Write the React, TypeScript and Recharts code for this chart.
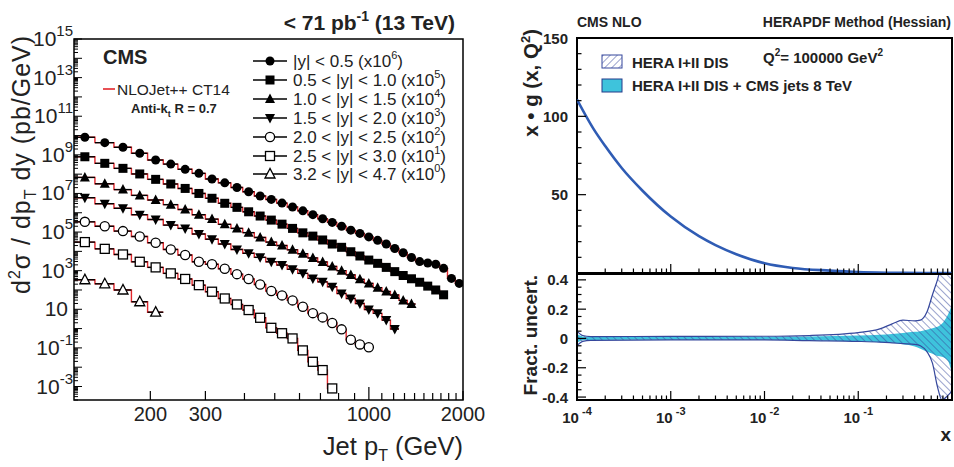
import React from 'react';
import {
  ComposedChart,
  Line,
  Scatter,
  ErrorBar,
  Area,
  XAxis,
  YAxis,
  ReferenceArea,
} from 'recharts';

const FONT = '"Liberation Sans", Arial, Helvetica, sans-serif';
const RED = '#e3262b';
const BLUE = '#2f5cb4';
const EDGE = '#35479c';
const CYAN = '#3ec3dc';

// jet pT bin edges (GeV)
const ptEdges = [
  114, 133, 153, 174, 196, 220, 245, 272, 300, 330, 362, 395, 430, 468, 507, 548, 592, 638,
  686, 737, 790, 846, 905, 967, 1032, 1101, 1172, 1248, 1327, 1410, 1497, 1588, 1684, 1784,
  1890, 2000,
];

// log10 of scaled d2sigma/dpT dy (pb/GeV), one value per bin starting at 114 GeV
const yBin0 = [
  9.91, 9.63, 9.39, 9.08, 8.73, 8.52, 8.25, 8.04, 7.75, 7.55, 7.31, 7.09, 6.87, 6.69, 6.5, 6.3,
  6.1, 5.9, 5.69, 5.5, 5.3, 5.1, 4.93, 4.75, 4.57, 4.38, 4.15, 3.93, 3.68, 3.47, 3.4, 3.33, 3.12,
  2.6, 2.34,
];
const yBin1 = [
  8.9, 8.56, 8.3, 8.01, 7.73, 7.49, 7.26, 7.0, 6.75, 6.49, 6.28, 6.05, 5.83, 5.62, 5.41, 5.19,
  4.96, 4.79, 4.59, 4.38, 4.21, 3.98, 3.76, 3.55, 3.38, 3.17, 2.95, 2.75, 2.58, 2.4, 2.2, 2.0, 1.75,
];
const yBin2 = [
  7.83, 7.5, 7.2, 6.9, 6.66, 6.42, 6.17, 5.9, 5.67, 5.4, 5.19, 4.97, 4.72, 4.48, 4.3, 4.08, 3.88,
  3.66, 3.45, 3.22, 3.0, 2.78, 2.55, 2.34, 2.12, 1.92, 1.74, 1.46, 1.27,
];
const yBin3 = [
  6.78, 6.47, 6.23, 5.9, 5.65, 5.36, 5.19, 4.9, 4.63, 4.38, 4.1, 3.9, 3.69, 3.46, 3.29, 3.07, 2.86,
  2.6, 2.42, 2.17, 1.82, 1.56, 1.3, 0.99, 0.79, 0.44, -0.02,
];
const yBin4 = [
  5.53, 5.3, 5.05, 4.77, 4.45, 4.1, 3.81, 3.46, 3.33, 3.1, 2.82, 2.57, 2.28, 1.95, 1.72, 1.46,
  1.13, 0.8, 0.58, 0.29, -0.04, -0.58, -0.82, -0.97,
];
const yBin5 = [
  4.48, 4.13, 3.84, 3.46, 3.17, 2.86, 2.57, 2.25, 1.91, 1.56, 1.25, 0.96, 0.56, 0.04, -0.24,
  -0.51, -1.13, -1.72, -2.15, -3.1,
];
const yBin6 = [2.53, 2.32, 2.0, 1.39, 0.85];

const rapLabels = [
  '|y| < 0.5',
  '0.5 < |y| < 1.0',
  '1.0 < |y| < 1.5',
  '1.5 < |y| < 2.0',
  '2.0 < |y| < 2.5',
  '2.5 < |y| < 3.0',
  '3.2 < |y| < 4.7',
];
const scalePow = ['6', '5', '4', '3', '2', '1', '0'];
const markerKinds = ['circle', 'square', 'tri', 'tridown', 'ocircle', 'osquare', 'otri'];

// gluon x*g(x,Q2) at Q2 = 100000 GeV2
const gX = [1e-4, 1.5e-4, 2e-4, 3e-4, 5e-4, 1e-3, 2e-3, 3e-3, 5e-3, 1e-2, 2e-2, 5e-2, 0.1, 0.2, 0.3, 0.5, 0.7, 1];
const gluon = [110.7, 92, 81, 67, 52.5, 36, 23.5, 17.8, 12, 6.2, 3.2, 1.5, 0.6, 0.2, 0.08, 0.02, 0.005, 0];

// fractional uncertainty bands
const uX = [1e-4, 1.15e-4, 1.4e-4, 1e-3, 1e-2, 3e-2, 0.1, 0.17, 0.23, 0.3, 0.4, 0.46, 0.54, 0.62, 0.7, 0.78, 0.9, 1];
const heraHi = [0.05, 0.02, 0.013, 0.014, 0.015, 0.02, 0.04, 0.065, 0.1, 0.125, 0.12, 0.125, 0.18, 0.3, 0.4, 0.5, 0.5, 0.5];
const heraLo = [-0.05, -0.02, -0.013, -0.01, -0.01, -0.015, -0.02, -0.025, -0.03, -0.035, -0.04, -0.05, -0.09, -0.17, -0.33, -0.42, -0.39, -0.36];
const cmsHi = [0.03, 0.014, 0.012, 0.012, 0.012, 0.014, 0.02, 0.025, 0.03, 0.038, 0.045, 0.05, 0.06, 0.07, 0.08, 0.1, 0.16, 0.23];
const cmsLo = [-0.03, -0.012, -0.01, -0.008, -0.008, -0.012, -0.02, -0.025, -0.03, -0.04, -0.055, -0.07, -0.09, -0.105, -0.12, -0.125, -0.15, -0.24];

const SERIES = [yBin0, yBin1, yBin2, yBin3, yBin4, yBin5, yBin6].map((vals, k) => ({
  key: 's' + k,
  vals,
  kind: markerKinds[k],
  label: rapLabels[k],
  pow: scalePow[k],
  points: vals.map((L, i) => {
    const lo = ptEdges[i];
    const hi = ptEdges[i + 1];
    const c = (lo + hi) / 2;
    return { pt: c, v: Math.pow(10, L), ex: [c - lo, hi - c] };
  }),
}));

const stepRows = ptEdges.map((pt, i) => {
  const row: Record<string, number> = { pt };
  SERIES.forEach((s) => {
    const n = s.vals.length;
    if (i < n) row[s.key] = Math.pow(10, s.vals[i]);
    else if (i === n) row[s.key] = Math.pow(10, s.vals[n - 1]);
  });
  return row;
});

const gluonRows = gX.map((x, i) => ({ x, g: gluon[i] }));
const uncRows = uX.map((x, i) => ({ x, hera: [heraLo[i], heraHi[i]], cms: [cmsLo[i], cmsHi[i]] }));

// tick lists
const ptTicks = [200, 300, 400, 500, 600, 700, 800, 900, 1000, 1100, 1200, 1300, 1400, 1500, 1600, 1700, 1800, 1900, 2000];
const xsecTicks: number[] = [];
for (let e = -4; e <= 14; e++) {
  for (let k = 1; k <= 9; k++) {
    const v = k * Math.pow(10, e);
    if (v >= 2e-4) xsecTicks.push(v);
  }
}
xsecTicks.push(1e15);
const xTicksR: number[] = [];
for (let e = -4; e <= -1; e++) for (let k = 1; k <= 9; k++) xTicksR.push(k * Math.pow(10, e));
xTicksR.push(1);
const gTicks = [0, 10, 20, 30, 40, 50, 60, 70, 80, 90, 100, 110, 120, 130, 140, 150];
const uTicks = [-0.4, -0.35, -0.3, -0.25, -0.2, -0.15, -0.1, -0.05, 0, 0.05, 0.1, 0.15, 0.2, 0.25, 0.3, 0.35, 0.4];

function isDecade(v: number) {
  const e = Math.round(Math.log10(v));
  return Math.abs(v / Math.pow(10, e) - 1) < 1e-6 ? e : null;
}

function Marker({ kind, cx, cy }: { kind: string; cx: number; cy: number }) {
  const sw = 1.3;
  switch (kind) {
    case 'circle':
      return <circle cx={cx} cy={cy} r={4.5} fill="#000" />;
    case 'square':
      return <rect x={cx - 4.5} y={cy - 4.5} width={9} height={9} fill="#000" />;
    case 'tri':
      return <polygon points={`${cx},${cy - 5.5} ${cx - 5},${cy + 4} ${cx + 5},${cy + 4}`} fill="#000" />;
    case 'tridown':
      return <polygon points={`${cx},${cy + 5.5} ${cx - 5},${cy - 4} ${cx + 5},${cy - 4}`} fill="#000" />;
    case 'ocircle':
      return <circle cx={cx} cy={cy} r={4.6} fill="#fff" stroke="#000" strokeWidth={sw} />;
    case 'osquare':
      return <rect x={cx - 4.5} y={cy - 4.5} width={9} height={9} fill="#fff" stroke="#000" strokeWidth={sw} />;
    default:
      return (
        <polygon
          points={`${cx},${cy - 5.5} ${cx - 5},${cy + 4} ${cx + 5},${cy + 4}`}
          fill="#fff"
          stroke="#000"
          strokeWidth={sw}
        />
      );
  }
}

function XsecTick(p: any) {
  const v = p.payload.value;
  const e = isDecade(v);
  const len = e !== null ? 8 : 4;
  const showLabel = e !== null && e % 2 !== 0;
  return (
    <g>
      <line x1={p.x} x2={p.x + len} y1={p.y} y2={p.y} stroke="#000" strokeWidth={1} />
      {showLabel && (
        <text
          x={e === 1 ? 68 : 73}
          y={p.y + 7}
          textAnchor="end"
          fontSize={21}
          fontFamily={FONT}
          fill="#222"
        >
          10
          {e !== 1 && (
            <tspan fontSize={15} dy={-10}>
              {e}
            </tspan>
          )}
        </text>
      )}
    </g>
  );
}

function PtTick(p: any) {
  const v = p.payload.value;
  const labelled = v === 200 || v === 300 || v === 1000 || v === 2000;
  const len = v === 1000 ? 13 : labelled ? 9 : 7;
  return (
    <g>
      <line x1={p.x} x2={p.x} y1={p.y} y2={p.y - len} stroke="#000" strokeWidth={1.2} />
      {labelled && (
        <text x={p.x} y={p.y + 21} textAnchor="middle" fontSize={20} fontFamily={FONT} fill="#222">
          {v}
        </text>
      )}
    </g>
  );
}

function LogXTick(p: any, withLabel: boolean) {
  const v = p.payload.value;
  const e = isDecade(v);
  const len = e !== null ? 9 : 4.5;
  return (
    <g>
      <line x1={p.x} x2={p.x} y1={p.y} y2={p.y - len} stroke="#000" strokeWidth={1.2} />
      {withLabel && e !== null && e < 0 && (
        <text x={p.x} y={p.y + 23} textAnchor="middle" fontSize={15} fontWeight="bold" fontFamily={FONT} fill="#222">
          10
          <tspan fontSize={11} dy={-8}>
            {' ' + e}
          </tspan>
        </text>
      )}
    </g>
  );
}

function LinYTick(p: any, majorStep: number, fmt: (v: number) => string, showZero: boolean) {
  const v = p.payload.value;
  const r = v / majorStep;
  const major = Math.abs(r - Math.round(r)) < 1e-6;
  const len = major ? 9 : 4.5;
  const show = major && (showZero || Math.abs(v) > 1e-9);
  return (
    <g>
      <line x1={p.x} x2={p.x + len} y1={p.y} y2={p.y} stroke="#000" strokeWidth={1.2} />
      {show && (
        <text x={p.x - 9} y={p.y + 5.5} textAnchor="end" fontSize={15} fontWeight="bold" fontFamily={FONT} fill="#222">
          {fmt(v)}
        </text>
      )}
    </g>
  );
}

function Overlay() {
  const rowY = [61, 80, 99, 118, 137, 156, 174];
  return (
    <svg
      width={954}
      height={467}
      style={{ position: 'absolute', left: 0, top: 0, pointerEvents: 'none' }}
      fontFamily={FONT}
    >
      <defs>
        <pattern id="hatchLeg" width="5" height="5" patternUnits="userSpaceOnUse" patternTransform="rotate(45)">
          <line x1="0" y1="0" x2="0" y2="5" stroke={EDGE} strokeWidth="1" />
        </pattern>
      </defs>
      {/* left panel texts */}
      <text x={455} y={30} textAnchor="end" fontSize={21} fontWeight="bold" fill="#222">
        {'< 71 pb'}
        <tspan fontSize={14} dy={-9}>
          -1
        </tspan>
        <tspan dy={9}> (13 TeV)</tspan>
      </text>
      <text x={103} y={64} fontSize={20} fontWeight="bold" fill="#222">
        CMS
      </text>
      <line x1={103} x2={115} y1={89} y2={89} stroke={RED} strokeWidth={1.6} />
      <text x={117} y={95} fontSize={15.5} fill="#222">
        NLOJet++ CT14
      </text>
      <text x={131} y={113} fontSize={13} fontWeight="bold" fill="#222">
        Anti-k
        <tspan fontSize={9} dy={4}>
          t
        </tspan>
        <tspan dy={-4}> R = 0.7</tspan>
      </text>
      {SERIES.map((s, k) => (
        <g key={s.key}>
          <line x1={253} x2={287} y1={rowY[k]} y2={rowY[k]} stroke="#000" strokeWidth={1.3} />
          <Marker kind={s.kind} cx={270} cy={rowY[k]} />
          <text x={293} y={rowY[k] + 6} fontSize={17} fill="#222">
            {s.label + ' (x10'}
            <tspan fontSize={11} dy={-8}>
              {s.pow}
            </tspan>
            <tspan dy={8}>)</tspan>
          </text>
        </g>
      ))}
      <text
        transform="translate(30,36) rotate(-90)"
        textAnchor="end"
        fontSize={25}
        fill="#222"
        textLength={258}
        lengthAdjust="spacing"
      >
        d<tspan fontSize={16} dy={-10}>2</tspan>
        <tspan dy={10}>σ / dp</tspan>
        <tspan fontSize={16} dy={6}>T</tspan>
        <tspan dy={-6}> dy (pb/GeV)</tspan>
      </text>
      <text x={463} y={455} textAnchor="end" fontSize={25.5} fill="#222">
        Jet p<tspan fontSize={16} dy={6}>T</tspan>
        <tspan dy={-6}> (GeV)</tspan>
      </text>

      {/* right panel texts */}
      <text x={577} y={27} fontSize={14} fontWeight="bold" fill="#222">
        CMS NLO
      </text>
      <text x={951} y={27} textAnchor="end" fontSize={14} fontWeight="bold" fill="#222">
        HERAPDF Method (Hessian)
      </text>
      <text x={763} y={63} fontSize={15} fontWeight="bold" fill="#222">
        Q<tspan fontSize={10} dy={-7}>2</tspan>
        <tspan dy={7}>= 100000 GeV</tspan>
        <tspan fontSize={10} dy={-7}>2</tspan>
      </text>
      <rect x={602} y={55} width={20} height={13} fill="url(#hatchLeg)" stroke={EDGE} strokeWidth={1} />
      <text x={632} y={68} fontSize={15} fontWeight="bold" fill="#222">
        HERA I+II DIS
      </text>
      <rect x={602} y={79} width={20} height={13} fill={CYAN} stroke="#253a8a" strokeWidth={1} />
      <text x={632} y={91} fontSize={15} fontWeight="bold" fill="#222">
        HERA I+II DIS + CMS jets 8 TeV
      </text>
      <text transform="translate(538,29) rotate(-90)" textAnchor="end" fontSize={20.5} fontWeight="bold" fill="#222">
        {'x • g (x, Q'}
        <tspan fontSize={13} dy={-8}>
          2
        </tspan>
        <tspan dy={8}>)</tspan>
      </text>
      <text transform="translate(537,275) rotate(-90)" textAnchor="end" fontSize={19} fontWeight="bold" fill="#222">
        Fract. uncert.
      </text>
      <text x={951} y={441} textAnchor="end" fontSize={19} fontWeight="bold" fill="#222">
        x
      </text>
    </svg>
  );
}

export default function App() {
  return (
    <div style={{ position: 'absolute', left: 0, top: 0, width: 954, height: 467, background: '#fff' }}>
      <div style={{ position: 'absolute', left: 0, top: 0 }}>
        <ComposedChart width={492} height={467} data={stepRows} margin={{ top: 39, right: 29, bottom: 0, left: 0 }}>
          <XAxis
            dataKey="pt"
            type="number"
            scale="log"
            domain={[114, 2000]}
            allowDataOverflow
            ticks={ptTicks}
            interval={0}
            height={67}
            tickSize={0}
            tickMargin={0}
            axisLine={false}
            tick={(p: any) => <PtTick {...p} />}
          />
          <YAxis
            type="number"
            scale="log"
            domain={[2e-4, 1e15]}
            allowDataOverflow
            ticks={xsecTicks}
            interval={0}
            width={74}
            tickSize={0}
            tickMargin={0}
            axisLine={false}
            tick={(p: any) => <XsecTick {...p} />}
          />
          {SERIES.map((s) => (
            <Line
              key={'l' + s.key}
              dataKey={s.key}
              type="stepAfter"
              stroke={RED}
              strokeWidth={1.4}
              dot={false}
              activeDot={false}
              isAnimationActive={false}
            />
          ))}
          {SERIES.map((s) => (
            <Scatter
              key={'p' + s.key}
              data={s.points}
              dataKey="v"
              isAnimationActive={false}
              shape={(p: any) => <Marker kind={s.kind} cx={p.cx} cy={p.cy} />}
            >
              <ErrorBar dataKey="ex" direction="x" width={0} stroke="#000" strokeWidth={1.4} />
            </Scatter>
          ))}
          <ReferenceArea x1={114} x2={2000} y1={2e-4} y2={1e15} fill="none" stroke="#000" strokeWidth={1.5} ifOverflow="visible" />
        </ComposedChart>
      </div>

      <div style={{ position: 'absolute', left: 480, top: 0 }}>
        <ComposedChart width={474} height={274} data={gluonRows} margin={{ top: 38, right: 2, bottom: 0, left: 0 }}>
          <XAxis
            dataKey="x"
            type="number"
            scale="log"
            domain={[1e-4, 1]}
            allowDataOverflow
            ticks={xTicksR}
            interval={0}
            height={1}
            tickSize={0}
            tickMargin={0}
            axisLine={false}
            tick={(p: any) => LogXTick(p, false)}
          />
          <YAxis
            type="number"
            domain={[0, 150]}
            allowDataOverflow
            ticks={gTicks}
            interval={0}
            width={97}
            tickSize={0}
            tickMargin={0}
            axisLine={false}
            tick={(p: any) => LinYTick(p, 50, (v) => String(v), false)}
          />
          <Line dataKey="g" type="monotone" stroke={BLUE} strokeWidth={2.6} dot={false} activeDot={false} isAnimationActive={false} />
          <ReferenceArea x1={1e-4} x2={1} y1={0} y2={150} fill="none" stroke="#000" strokeWidth={2} ifOverflow="visible" />
        </ComposedChart>
      </div>

      <div style={{ position: 'absolute', left: 480, top: 268 }}>
        <ComposedChart width={474} height={199} data={uncRows} margin={{ top: 6, right: 2, bottom: 0, left: 0 }}>
          <defs>
            <pattern id="hatchBand" width="5" height="5" patternUnits="userSpaceOnUse" patternTransform="rotate(-45)">
              <line x1="0" y1="0" x2="0" y2="5" stroke={EDGE} strokeWidth="1" />
            </pattern>
          </defs>
          <XAxis
            dataKey="x"
            type="number"
            scale="log"
            domain={[1e-4, 1]}
            allowDataOverflow
            ticks={xTicksR}
            interval={0}
            height={67}
            tickSize={0}
            tickMargin={0}
            axisLine={false}
            tick={(p: any) => LogXTick(p, true)}
          />
          <YAxis
            type="number"
            domain={[-0.42, 0.44]}
            allowDataOverflow
            ticks={uTicks}
            interval={0}
            width={97}
            tickSize={0}
            tickMargin={0}
            axisLine={false}
            tick={(p: any) => LinYTick(p, 0.2, (v) => (Math.abs(v) < 1e-9 ? '0' : v.toFixed(1)), true)}
          />
          <Area dataKey="cms" type="monotone" fill={CYAN} fillOpacity={1} stroke="none" isAnimationActive={false} />
          <Area
            dataKey="hera"
            type="monotone"
            fill="url(#hatchBand)"
            fillOpacity={1}
            stroke={EDGE}
            strokeWidth={1.2}
            isAnimationActive={false}
          />
          <ReferenceArea x1={1e-4} x2={1} y1={-0.42} y2={0.44} fill="none" stroke="#000" strokeWidth={2} ifOverflow="visible" />
        </ComposedChart>
      </div>

      <Overlay />
    </div>
  );
}
